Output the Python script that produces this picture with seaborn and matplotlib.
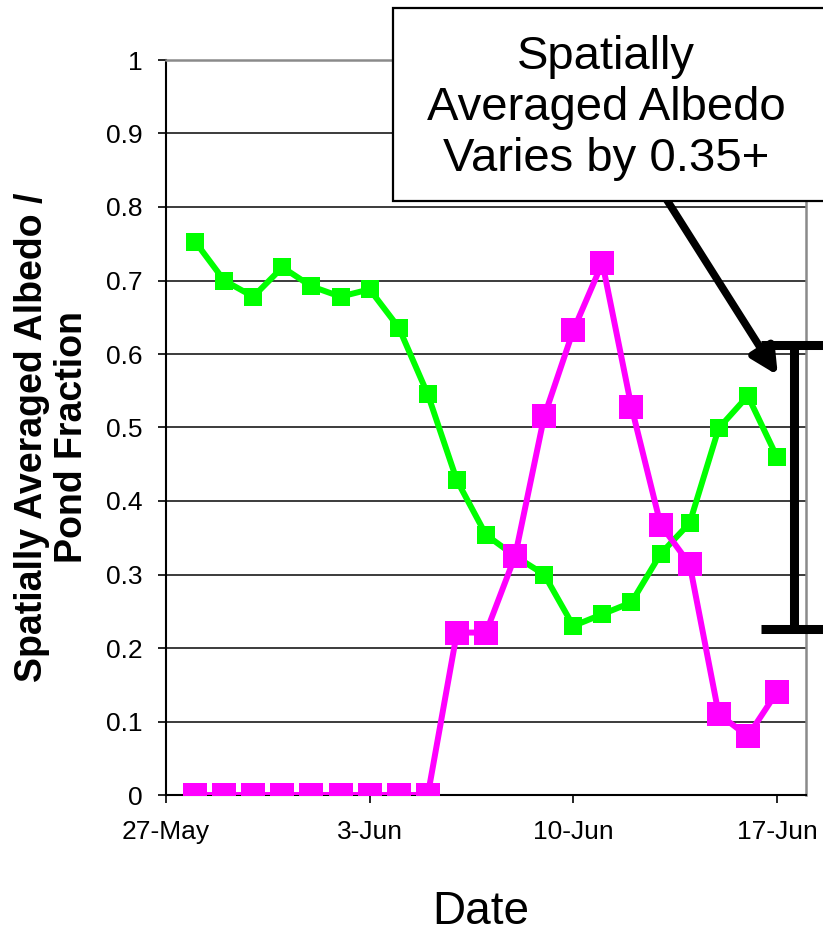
import matplotlib
matplotlib.use("Agg")
import matplotlib.pyplot as plt
from matplotlib.patches import Rectangle
import pandas as pd
import seaborn as sns

# Daily observations, 28 May - 17 Jun
dates = ["1998-05-28", "1998-05-29", "1998-05-30", "1998-05-31", "1998-06-01",
         "1998-06-02", "1998-06-03", "1998-06-04", "1998-06-05", "1998-06-06",
         "1998-06-07", "1998-06-08", "1998-06-09", "1998-06-10", "1998-06-11",
         "1998-06-12", "1998-06-13", "1998-06-14", "1998-06-15", "1998-06-16",
         "1998-06-17"]
albedo = [0.753, 0.700, 0.678, 0.718, 0.692, 0.678, 0.688, 0.636, 0.545, 0.428,
          0.354, 0.325, 0.300, 0.230, 0.246, 0.262, 0.328, 0.370, 0.499, 0.543,
          0.460]
pond_fraction = [0.0, 0.0, 0.0, 0.0, 0.0, 0.0, 0.0, 0.0, 0.0, 0.221,
                 0.221, 0.325, 0.515, 0.632, 0.724, 0.528, 0.368, 0.314, 0.110,
                 0.080, 0.140]

tick_dates = ["1998-05-27", "1998-06-03", "1998-06-10", "1998-06-17"]
tick_labels = ["27-May", "3-Jun", "10-Jun", "17-Jun"]
y_ticks = [0, 0.1, 0.2, 0.3, 0.4, 0.5, 0.6, 0.7, 0.8, 0.9, 1.0]

# Range of the spatially averaged albedo (bracket on the right)
albedo_range = (0.226, 0.612)

sns.set_style("white")
plt.rcParams["font.family"] = ["Liberation Sans", "DejaVu Sans"]
plt.rcParams["text.color"] = "black"

df = pd.DataFrame({"date": pd.to_datetime(dates),
                   "albedo": albedo,
                   "pond": pond_fraction})

fig = plt.figure(figsize=(8.23, 9.38), dpi=100)
ax = fig.add_axes([166 / 823, 1 - 795 / 938, 640 / 823, 735 / 938])

sns.lineplot(data=df, x="date", y="albedo", ax=ax, color="#00FF00",
             linewidth=4.3, marker="s", markersize=13, markeredgewidth=0,
             zorder=3)
sns.lineplot(data=df, x="date", y="pond", ax=ax, color="#FF00FF",
             linewidth=4.3, marker="s", markersize=17.5, markeredgewidth=0,
             zorder=4)

ax.set_xlim(pd.Timestamp("1998-05-27"), pd.Timestamp("1998-06-18"))
ax.set_ylim(0, 1)
ax.set_xticks(pd.to_datetime(tick_dates))
ax.set_xticklabels(tick_labels)
ax.set_yticks(y_ticks)
ax.set_yticklabels([f"{v:g}" for v in y_ticks])
ax.tick_params(axis="both", labelsize=19, direction="out", length=6,
               width=1.2, color="black", labelcolor="black",
               bottom=True, left=True)
ax.tick_params(axis="x", pad=12)
ax.tick_params(axis="y", pad=11)

ax.grid(axis="y", color="#1a1a1a", linewidth=1.2, zorder=0)
ax.grid(axis="x", visible=False)
ax.set_axisbelow(True)

for side in ("left", "bottom"):
    ax.spines[side].set_color("black")
    ax.spines[side].set_linewidth(1.5)
for side in ("top", "right"):
    ax.spines[side].set_color("#8a8a8a")
    ax.spines[side].set_linewidth(1.8)

ax.set_xlabel("")
ax.set_ylabel("")

# Axis titles
fig.text(481 / 823, 1 - 912 / 938, "Date", fontsize=33,
         ha="center", va="center")
fig.text(52 / 823, 1 - 437 / 938, "Spatially Averaged Albedo /\nPond Fraction",
         fontsize=27, fontweight="bold", rotation=90, ha="center",
         va="center", multialignment="center", linespacing=1.12)

# Range bracket for the albedo
mid = (albedo_range[0] + albedo_range[1]) / 2
half = (albedo_range[1] - albedo_range[0]) / 2
ax.errorbar(pd.Timestamp("1998-06-17 14:10"), mid, yerr=half, fmt="none",
            ecolor="black", elinewidth=6.5, capsize=24, capthick=6.5,
            clip_on=False, zorder=5)

# Arrow from the callout to the bracket
ax.annotate("", xy=(0.956, 0.571), xytext=(0.775, 0.82),
            xycoords="axes fraction", textcoords="axes fraction",
            arrowprops=dict(arrowstyle="-|>,head_length=0.8,head_width=0.4",
                            mutation_scale=20, lw=5.5, color="black",
                            shrinkA=0, shrinkB=0),
            annotation_clip=False, zorder=6)

# Callout box
box = Rectangle((393 / 823, 1 - 201 / 938), (840 - 393) / 823, (201 - 8) / 938,
                transform=fig.transFigure, facecolor="white",
                edgecolor="black", linewidth=1.6, zorder=2)
fig.patches.append(box)
fig.text(606 / 823, 1 - 108 / 938,
         "Spatially\nAveraged Albedo\nVaries by 0.35+",
         fontsize=34, ha="center", va="center", multialignment="center",
         linespacing=1.2, zorder=3)

fig.savefig("out.png", dpi=100)
